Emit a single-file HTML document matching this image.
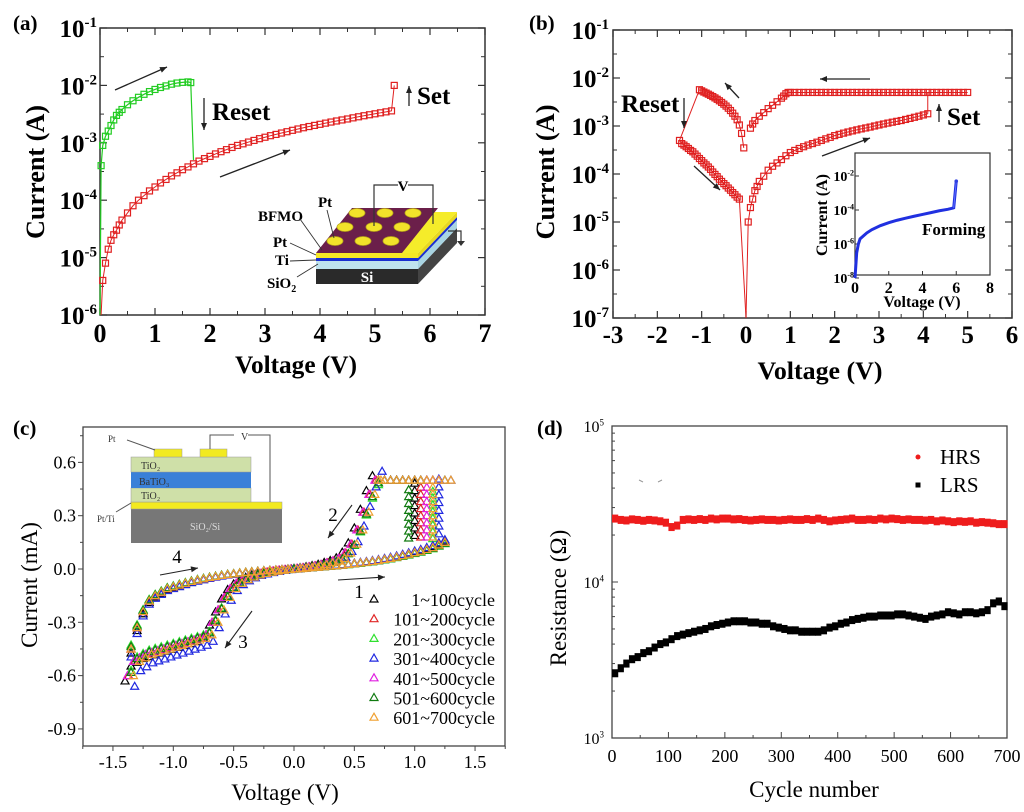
<!DOCTYPE html>
<html><head><meta charset="utf-8">
<style>
html,body{margin:0;padding:0;background:#fff;}
svg{display:block;}
.b{font-family:"Liberation Serif",serif;font-weight:bold;}
.n{font-family:"Liberation Serif",serif;}
</style></head>
<body>
<svg id="fig" width="1024" height="812" viewBox="0 0 1024 812" xmlns="http://www.w3.org/2000/svg">
<rect x="0" y="0" width="1024" height="812" fill="#fff"/>
</svg>
<script>
// ---------- Panel (a) data ----------
const aRedV=[0.02,0.05,0.1,0.15,0.2,0.25,0.3,0.35,0.4,0.5,0.6,0.7,0.8,0.9,1.0,1.1,1.2,1.3,1.4,1.5,1.6,1.7,1.8,1.9,2.0,2.1,2.2,2.3,2.4,2.5,2.6,2.7,2.8,2.9,3.0,3.1,3.2,3.3,3.4,3.5,3.6,3.7,3.8,3.9,4.0,4.1,4.2,4.3,4.4,4.5,4.6,4.7,4.8,4.9,5.0,5.1,5.2,5.3,5.35];
const aRedI=[1e-6,4e-6,8e-6,1.4e-5,2e-5,2.5e-5,3e-5,3.7e-5,4.5e-5,6e-5,8e-5,1e-4,1.2e-4,1.45e-4,1.7e-4,2e-4,2.3e-4,2.65e-4,3e-4,3.4e-4,3.8e-4,4.3e-4,4.8e-4,5.3e-4,5.8e-4,6.4e-4,7e-4,7.6e-4,8.3e-4,9e-4,9.6e-4,1.03e-3,1.1e-3,1.18e-3,1.25e-3,1.33e-3,1.4e-3,1.48e-3,1.56e-3,1.65e-3,1.74e-3,1.83e-3,1.92e-3,2.01e-3,2.1e-3,2.2e-3,2.3e-3,2.4e-3,2.5e-3,2.6e-3,2.72e-3,2.84e-3,2.96e-3,3.08e-3,3.2e-3,3.33e-3,3.46e-3,3.6e-3,1e-2];
const aGreenV=[0,0.02,0.05,0.1,0.15,0.2,0.25,0.3,0.35,0.4,0.5,0.6,0.7,0.8,0.9,1.0,1.1,1.2,1.3,1.4,1.5,1.6,1.65,1.7];
const aGreenI=[1e-6,4e-4,9e-4,1.3e-3,1.6e-3,2e-3,2.5e-3,3e-3,3.4e-3,3.8e-3,4.6e-3,5.4e-3,6.2e-3,7e-3,7.8e-3,8.5e-3,9.2e-3,9.8e-3,1.05e-2,1.1e-2,1.13e-2,1.15e-2,1.12e-2,5e-4];
const aXTicks=[0,1,2,3,4,5,6,7];
const aYExp=[-1,-2,-3,-4,-5,-6];
// ---------- Panel (b) data ----------
const bSetV=[0,0.05,0.1,0.15,0.2,0.25,0.3,0.4,0.5,0.6,0.7,0.8,0.9,1.0,1.1,1.2,1.3,1.4,1.5,1.6,1.7,1.8,1.9,2.0,2.1,2.2,2.3,2.4,2.5,2.6,2.7,2.8,2.9,3.0,3.1,3.2,3.3,3.4,3.5,3.6,3.7,3.8,3.9,4.0,4.1];
const bSetI=[1e-7,1e-5,2e-5,3e-5,4.5e-5,5.5e-5,7e-5,9e-5,1.2e-4,1.45e-4,1.7e-4,2e-4,2.4e-4,2.8e-4,3.1e-4,3.4e-4,3.7e-4,4e-4,4.3e-4,4.6e-4,5e-4,5.4e-4,5.8e-4,6.3e-4,6.7e-4,7.1e-4,7.5e-4,7.9e-4,8.3e-4,8.7e-4,9.1e-4,9.5e-4,1e-3,1.05e-3,1.1e-3,1.15e-3,1.2e-3,1.25e-3,1.3e-3,1.37e-3,1.44e-3,1.52e-3,1.6e-3,1.7e-3,1.8e-3];
const bLrsPosV=[5.0,4.9,4.8,4.7,4.6,4.5,4.4,4.3,4.2,4.1,4.0,3.9,3.8,3.7,3.6,3.5,3.4,3.3,3.2,3.1,3.0,2.9,2.8,2.7,2.6,2.5,2.4,2.3,2.2,2.1,2.0,1.9,1.8,1.7,1.6,1.5,1.4,1.3,1.2,1.1,1.0,0.95,0.9,0.85,0.8,0.7,0.6,0.5,0.4,0.3,0.2,0.15,0.1];
const bLrsPosI=[5e-3,5e-3,5e-3,5e-3,5e-3,5e-3,5e-3,5e-3,5e-3,5e-3,5e-3,5e-3,5e-3,5e-3,5e-3,5e-3,5e-3,5e-3,5e-3,5e-3,5e-3,5e-3,5e-3,5e-3,5e-3,5e-3,5e-3,5e-3,5e-3,5e-3,5e-3,5e-3,5e-3,5e-3,5e-3,5e-3,5e-3,5e-3,5e-3,5e-3,5e-3,5e-3,4.7e-3,4.2e-3,3.8e-3,3.2e-3,2.7e-3,2.3e-3,1.9e-3,1.6e-3,1.3e-3,1.1e-3,9e-4];
const bLrsNegV=[-0.05,-0.1,-0.15,-0.2,-0.25,-0.3,-0.35,-0.4,-0.45,-0.5,-0.55,-0.6,-0.65,-0.7,-0.75,-0.8,-0.85,-0.9,-0.95,-1.0,-1.05];
const bLrsNegI=[3.5e-4,7e-4,1.05e-3,1.35e-3,1.6e-3,1.85e-3,2.1e-3,2.35e-3,2.6e-3,2.85e-3,3.1e-3,3.35e-3,3.6e-3,3.85e-3,4.1e-3,4.35e-3,4.6e-3,4.85e-3,5.1e-3,5.4e-3,5.7e-3];
const bHrsNegV=[-1.5,-1.45,-1.4,-1.35,-1.3,-1.25,-1.2,-1.15,-1.1,-1.05,-1.0,-0.95,-0.9,-0.85,-0.8,-0.75,-0.7,-0.65,-0.6,-0.55,-0.5,-0.45,-0.4,-0.35,-0.3,-0.25,-0.2,-0.15];
const bHrsNegI=[5e-4,4.3e-4,4e-4,3.7e-4,3.4e-4,3.1e-4,2.9e-4,2.6e-4,2.35e-4,2.1e-4,1.9e-4,1.7e-4,1.55e-4,1.4e-4,1.25e-4,1.1e-4,9.8e-5,8.8e-5,7.8e-5,7e-5,6.3e-5,5.7e-5,5.1e-5,4.6e-5,4.1e-5,3.7e-5,3.3e-5,3e-5];
const bFormV=[0,0.1,0.2,0.3,0.5,0.7,1.0,1.5,2.0,2.5,3.0,3.5,4.0,4.5,5.0,5.5,5.8,5.85,6.0];
const bFormI=[1e-8,3e-7,1e-6,2e-6,3e-6,4.5e-6,7e-6,1.2e-5,1.8e-5,2.5e-5,3.3e-5,4.3e-5,5.5e-5,7e-5,9e-5,1.1e-4,1.3e-4,1.35e-4,5e-3];
const bXTicks=[-3,-2,-1,0,1,2,3,4,5,6];
const bYExp=[-1,-2,-3,-4,-5,-6,-7];
const bInsetXTicks=[0,2,4,6,8];
const bInsetYExp=[-2,-4,-6,-8];
// ---------- Panel (c) data ----------
const c1V=[0.05,0.1,0.15,0.2,0.25,0.3,0.35,0.4,0.45,0.5,0.55,0.6,0.65,0.7,0.75,0.8,0.85,0.9,0.95,1.0,1.05,1.1,1.15,1.2,1.25];
const c1I=[0.003,0.005,0.008,0.01,0.013,0.016,0.019,0.022,0.026,0.03,0.034,0.038,0.043,0.048,0.054,0.06,0.067,0.075,0.083,0.092,0.1,0.11,0.12,0.135,0.15];
const cSetI=[0.18,0.22,0.26,0.3,0.34,0.38,0.42,0.46];
const cFlatV=[1.3,1.25,1.2,1.15,1.1,1.05,1.0,0.95,0.9,0.85,0.8,0.75,0.7];
const c2V=[0.7,0.65,0.6,0.55,0.5,0.45,0.4,0.35,0.3,0.25,0.2,0.15,0.1,0.05,0];
const c2I=[0.5,0.42,0.32,0.22,0.14,0.09,0.06,0.045,0.035,0.025,0.018,0.012,0.007,0.003,0];
const c3V=[-0.05,-0.1,-0.15,-0.2,-0.25,-0.3,-0.35,-0.4,-0.45,-0.5,-0.55,-0.6,-0.65,-0.7,-0.75,-0.8,-0.85,-0.9,-0.95,-1.0,-1.05,-1.1,-1.15,-1.2,-1.25,-1.3,-1.35];
const c3I=[-0.003,-0.007,-0.012,-0.018,-0.025,-0.033,-0.045,-0.06,-0.08,-0.11,-0.16,-0.23,-0.3,-0.37,-0.39,-0.4,-0.41,-0.42,-0.43,-0.44,-0.45,-0.46,-0.47,-0.48,-0.5,-0.52,-0.6];
const c4V=[-1.35,-1.3,-1.25,-1.2,-1.15,-1.1,-1.05,-1.0,-0.95,-0.9,-0.85,-0.8,-0.75,-0.7,-0.65,-0.6,-0.55,-0.5,-0.45,-0.4,-0.35,-0.3,-0.25,-0.2,-0.15,-0.1,-0.05];
const c4I=[-0.45,-0.33,-0.24,-0.18,-0.15,-0.13,-0.11,-0.1,-0.09,-0.08,-0.07,-0.062,-0.055,-0.048,-0.042,-0.036,-0.031,-0.027,-0.023,-0.019,-0.016,-0.013,-0.01,-0.008,-0.006,-0.004,-0.002];
const cSeriesNames=["1~100cycle","101~200cycle","201~300cycle","301~400cycle","401~500cycle","501~600cycle","601~700cycle"];
const cSeriesGain=[1.05,1.0,0.95,1.1,1.0,0.97,1.0];
const cSeriesVShift=[-0.05,-0.02,0.0,0.03,-0.03,0.0,0.02];
const cSeriesSetV=[1.0,1.05,1.15,1.2,1.1,0.95,1.15];
const cXTicks=[-1.5,-1.0,-0.5,0.0,0.5,1.0,1.5];
const cYTicks=[0.6,0.3,0.0,-0.3,-0.6,-0.9];
// ---------- Panel (d) data ----------
const dLRS=[2.6,2.8,3.0,3.2,3.3,3.5,3.6,3.8,4.0,4.1,4.3,4.5,4.6,4.7,4.8,4.9,5.0,5.2,5.3,5.4,5.5,5.6,5.6,5.6,5.5,5.5,5.4,5.4,5.2,5.1,5.0,4.9,4.9,4.8,4.8,4.8,4.8,4.9,5.1,5.2,5.4,5.5,5.7,5.8,5.9,6.0,6.0,6.1,6.1,6.1,6.2,6.2,6.1,6.0,5.9,5.8,6.0,6.1,6.2,6.4,6.3,6.2,6.4,6.4,6.3,6.4,6.6,7.3,7.5,7.0];
const dHRS=[2.55,2.5,2.48,2.52,2.5,2.47,2.5,2.48,2.45,2.4,2.25,2.3,2.5,2.52,2.5,2.53,2.5,2.55,2.52,2.55,2.55,2.52,2.53,2.5,2.48,2.5,2.52,2.5,2.5,2.48,2.5,2.52,2.5,2.5,2.53,2.5,2.55,2.5,2.45,2.48,2.5,2.52,2.55,2.5,2.5,2.52,2.5,2.55,2.52,2.55,2.53,2.5,2.52,2.5,2.5,2.48,2.5,2.45,2.48,2.45,2.42,2.45,2.43,2.45,2.4,2.42,2.4,2.38,2.35,2.35];
const dCycleStep=10;
const dXTicks=[0,100,200,300,400,500,600,700];
const dYExp=[5,4,3];

const NS="http://www.w3.org/2000/svg";
const svg=document.getElementById('fig');
function mk(tag,attrs,parent){const e=document.createElementNS(NS,tag);for(const k in attrs)e.setAttribute(k,attrs[k]);(parent||svg).appendChild(e);return e;}
function grp(parent){return mk('g',{},parent);}
function supText(parent,x,y,base,sup,cls,fs,sfs,anchor){
  const t=mk('text',{x:x,y:y,'class':cls,'font-size':fs,'text-anchor':anchor||'end'},parent);
  t.appendChild(document.createTextNode(base));
  const s=mk('tspan',{dy:-fs*0.4,'font-size':sfs},t);s.textContent=sup;
  return t;
}
function arrow(parent,x1,y1,x2,y2,w){
  const g=grp(parent);
  mk('line',{x1:x1,y1:y1,x2:x2,y2:y2,stroke:'#222','stroke-width':w||1.3},g);
  const a=Math.atan2(y2-y1,x2-x1),L=7,W=3;
  const p=[[x2,y2],[x2-L*Math.cos(a)+W*Math.sin(a),y2-L*Math.sin(a)-W*Math.cos(a)],[x2-L*Math.cos(a)-W*Math.sin(a),y2-L*Math.sin(a)+W*Math.cos(a)]];
  mk('polygon',{points:p.map(q=>q.join(',')).join(' '),fill:'#222'},g);
  return g;
}
function sq(parent,x,y,s,col){return mk('rect',{x:x-s/2,y:y-s/2,width:s,height:s,fill:'none',stroke:col,'stroke-width':1.2},parent);}
function tri(parent,x,y,col){return mk('path',{d:`M${x},${y-4}L${x+4},${y+3}L${x-4},${y+3}Z`,fill:'none',stroke:col,'stroke-width':1.2},parent);}
function poly(parent,xs,ys,col,w){return mk('polyline',{points:xs.map((x,i)=>x+','+ys[i]).join(' '),fill:'none',stroke:col,'stroke-width':w||1},parent);}

// ================= Panel (a) =================
(function(){
  const L=100,R=485,T=28,B=315;
  const xa=v=>L+v*(R-L)/7;
  const ya=i=>T+(-1-Math.log10(i))*(B-T)/5;
  const P=grp();
  
  
  const lab=mk('text',{x:13,y:30,'class':'b','font-size':21},P);lab.textContent='(a)';
  
  
  const frame=mk('rect',{x:L,y:T,width:R-L,height:B-T,fill:'none',stroke:'#333','stroke-width':1.5},P);
  
  
  const tg=grp(P);
  
  
  aXTicks.forEach(v=>{
    const x=xa(v);
    mk('line',{x1:x,y1:B,x2:x,y2:B-7,stroke:'#333','stroke-width':1.2},tg);
    mk('line',{x1:x,y1:T,x2:x,y2:T+7,stroke:'#333','stroke-width':1.2},tg);
    if(v<7){mk('line',{x1:xa(v+0.5),y1:B,x2:xa(v+0.5),y2:B-4,stroke:'#333'},tg);mk('line',{x1:xa(v+0.5),y1:T,x2:xa(v+0.5),y2:T+4,stroke:'#333'},tg);}
    const t=mk('text',{x:x,y:342,'class':'b','font-size':26,'text-anchor':'middle'},tg);t.textContent=String(v);
  });
  const yg=grp(P);
  
  
  aYExp.forEach(e=>{
    const y=ya(Math.pow(10,e));
    mk('line',{x1:L,y1:y,x2:L+7,y2:y,stroke:'#333','stroke-width':1.2},yg);
    mk('line',{x1:R,y1:y,x2:R-7,y2:y,stroke:'#333','stroke-width':1.2},yg);
    if(e>-6){const ym=ya(Math.pow(10,e-0.5));mk('line',{x1:L,y1:ym,x2:L+4,y2:ym,stroke:'#333'},yg);mk('line',{x1:R,y1:ym,x2:R-4,y2:ym,stroke:'#333'},yg);}
    supText(yg,97,y+9,'10',String(e),'b',25,15,'end');
  });
  const xt=mk('text',{x:296,y:373,'class':'b','font-size':25,'text-anchor':'middle',textLength:122,lengthAdjust:'spacingAndGlyphs'},P);xt.textContent='Voltage (V)';
  
  
  const yt=mk('text',{x:0,y:0,'class':'b','font-size':26,'text-anchor':'middle',textLength:134,lengthAdjust:'spacingAndGlyphs',transform:'translate(44,172) rotate(-90)'},P);yt.textContent='Current (A)';
  
  
  // series
  const gs=grp(P);
  
  
  poly(gs,aGreenV.map(xa),aGreenI.map(ya),'#22cc22',1.2);
  aGreenV.forEach((v,i)=>{if(i>0&&i<aGreenV.length-1)sq(gs,xa(v),ya(aGreenI[i]),6,'#22cc22');});
  const rs=grp(P);
  
  
  poly(rs,aRedV.map(xa),aRedI.map(ya),'#e02020',1);
  aRedV.forEach((v,i)=>{if(i>0)sq(rs,xa(v),ya(aRedI[i]),6,'#e02020');});
  // annotations
  const an=grp(P);
  
  
  arrow(an,115,90,167,67);
  arrow(an,220,177,290,150);
  arrow(an,204,98,204,130);
  arrow(an,409,106,409,86);
  const rt=mk('text',{x:212,y:120,'class':'b','font-size':25},an);rt.textContent='Reset';
  const st=mk('text',{x:417,y:104,'class':'b','font-size':25},an);st.textContent='Set';
  // inset device
  const dv=grp(P);
  
  
  const dx=39,dy=-41;
  function layer(y1,y2,front,side){
    mk('rect',{x:316,y:y1,width:102,height:y2-y1,fill:front},dv);
    mk('polygon',{points:`418,${y1} ${418+dx},${y1+dy} ${418+dx},${y2+dy} 418,${y2}`,fill:side},dv);
  }
  layer(269,284,'#2a2a2a','#444');
  layer(261,269,'#bfe3ee','#a8d4e2');
  layer(258,261,'#1a2fd0','#1a2fd0');
  layer(253,258,'#f5e826','#e8d820');
  mk('polygon',{points:`316,253 ${316+dx},${253+dy} ${418+dx},${253+dy} 418,253`,fill:'#f5ec2a'},dv);
  mk('polygon',{points:'316,253 352,208 438,208 402,253',fill:'#6b1f4a'},dv);
  const si=mk('text',{x:367,y:282,'class':'b','font-size':15,fill:'#fff','text-anchor':'middle'},dv);si.textContent='Si';
  [[357,213],[385,213],[413,213],[345,227],[374,227],[402,227],[335,241],[363,241],[391,241]].forEach(c=>{
    mk('ellipse',{cx:c[0],cy:c[1],rx:8,ry:4.5,fill:'#f2e22a',stroke:'#b8a818','stroke-width':0.8},dv);
  });
  mk('polyline',{points:'374,226 374,185 398,185',fill:'none',stroke:'#333','stroke-width':1.2},dv);
  mk('polyline',{points:'408,185 433,185 433,224',fill:'none',stroke:'#333','stroke-width':1.2},dv);
  const vv=mk('text',{x:403,y:191,'class':'b','font-size':15,'text-anchor':'middle'},dv);vv.textContent='V';
  mk('polyline',{points:'448,231 461,231 461,242',fill:'none',stroke:'#333','stroke-width':1.2},dv);
  mk('polygon',{points:'457,241 465,241 461,246',fill:'#333'},dv);
  [['Pt',318,207,'start'],['BFMO',258,221,'start'],['Pt',273,247,'start'],['Ti',275,265,'start']].forEach(l=>{
    const t=mk('text',{x:l[1],y:l[2],'class':'b','font-size':15,'text-anchor':l[3]},dv);t.textContent=l[0];
  });
  const so=mk('text',{x:267,y:288,'class':'b','font-size':15},dv);so.appendChild(document.createTextNode('SiO'));const sub=mk('tspan',{dy:4,'font-size':10},so);sub.textContent='2';
  [[327,210,334,238],[300,219,322,250],[290,243,316,255],[290,261,316,260],[297,277,318,264]].forEach(l=>mk('line',{x1:l[0],y1:l[1],x2:l[2],y2:l[3],stroke:'#333','stroke-width':0.9},dv));
})();

// ================= Panel (b) =================
(function(){
  const L=613,R=1012,T=30,B=318;
  const xb=v=>L+(v+3)*(R-L)/9;
  const yb=i=>T+(-1-Math.log10(i))*(B-T)/6;
  const P=grp();
  
  
  const lab=mk('text',{x:529,y:30,'class':'b','font-size':21},P);lab.textContent='(b)';
  
  
  const frame=mk('rect',{x:L,y:T,width:R-L,height:B-T,fill:'none',stroke:'#333','stroke-width':1.5},P);
  
  
  const tg=grp(P);
  
  
  bXTicks.forEach(v=>{
    const x=xb(v);
    mk('line',{x1:x,y1:B,x2:x,y2:B-7,stroke:'#333','stroke-width':1.2},tg);
    mk('line',{x1:x,y1:T,x2:x,y2:T+7,stroke:'#333','stroke-width':1.2},tg);
    if(v<6){mk('line',{x1:xb(v+0.5),y1:B,x2:xb(v+0.5),y2:B-4,stroke:'#333'},tg);mk('line',{x1:xb(v+0.5),y1:T,x2:xb(v+0.5),y2:T+4,stroke:'#333'},tg);}
    const t=mk('text',{x:x,y:343,'class':'b','font-size':25,'text-anchor':'middle'},tg);t.textContent=String(v);
  });
  const yg=grp(P);
  
  
  bYExp.forEach(e=>{
    const y=yb(Math.pow(10,e));
    mk('line',{x1:L,y1:y,x2:L+7,y2:y,stroke:'#333','stroke-width':1.2},yg);
    mk('line',{x1:R,y1:y,x2:R-7,y2:y,stroke:'#333','stroke-width':1.2},yg);
    if(e>-7){const ym=yb(Math.pow(10,e-0.5));mk('line',{x1:L,y1:ym,x2:L+4,y2:ym,stroke:'#333'},yg);mk('line',{x1:R,y1:ym,x2:R-4,y2:ym,stroke:'#333'},yg);}
    supText(yg,609,y+9,'10',String(e),'b',25,15,'end');
  });
  const xt=mk('text',{x:820,y:379,'class':'b','font-size':25,'text-anchor':'middle',textLength:125,lengthAdjust:'spacingAndGlyphs'},P);xt.textContent='Voltage (V)';
  
  
  const yt=mk('text',{x:0,y:0,'class':'b','font-size':26,'text-anchor':'middle',textLength:135,lengthAdjust:'spacingAndGlyphs',transform:'translate(554,172) rotate(-90)'},P);yt.textContent='Current (A)';
  
  
  const col='#e02020';
  const s=grp(P);
  
  
  poly(s,bSetV.map(xb),bSetI.map(yb),col,1);
  poly(s,[xb(bSetV[bSetV.length-1]),xb(bLrsPosV[9])],[yb(bSetI[bSetI.length-1]),yb(bLrsPosI[9])],col,1);
  poly(s,bLrsPosV.map(xb),bLrsPosI.map(yb),col,1);
  poly(s,bLrsNegV.map(xb),bLrsNegI.map(yb),col,1);
  poly(s,[xb(bLrsNegV[bLrsNegV.length-1]),xb(bHrsNegV[0])],[yb(bLrsNegI[bLrsNegI.length-1]),yb(bHrsNegI[0])],col,1);
  poly(s,bHrsNegV.map(xb),bHrsNegI.map(yb),col,1);
  poly(s,[xb(bHrsNegV[bHrsNegV.length-1]),xb(0)],[yb(bHrsNegI[bHrsNegI.length-1]),yb(1e-7)],col,1);
  [[bSetV,bSetI],[bLrsPosV,bLrsPosI],[bLrsNegV,bLrsNegI],[bHrsNegV,bHrsNegI]].forEach(br=>{
    br[0].forEach((v,i)=>{if(br[1][i]>2e-7)sq(s,xb(v),yb(br[1][i]),6,col);});
  });
  const an=grp(P);
  
  
  arrow(an,870,79,820,79);
  arrow(an,739,98,725,83);
  arrow(an,694,166,720,190);
  arrow(an,822,156,870,138);
  arrow(an,684,98,684,128);
  arrow(an,939,122,939,104);
  const rt=mk('text',{x:621,y:112,'class':'b','font-size':25},an);rt.textContent='Reset';
  const st=mk('text',{x:947,y:125,'class':'b','font-size':25},an);st.textContent='Set';
  // inset
  const IL=855,IR=990,IT=153,IB=275;
  const xi=v=>IL+v*(IR-IL)/8;
  const yi=i=>176+(-2-Math.log10(i))*17;
  const ins=grp(P);
  
  
  mk('rect',{x:IL,y:IT,width:IR-IL,height:IB-IT,fill:'#fff',stroke:'#333','stroke-width':1.2},ins);
  bInsetXTicks.forEach(v=>{const x=xi(v);mk('line',{x1:x,y1:IB,x2:x,y2:IB-4,stroke:'#333'},ins);
    const t=mk('text',{x:x,y:293,'class':'b','font-size':16,'text-anchor':'middle'},ins);t.textContent=String(v);});
  bInsetYExp.forEach(e=>{const y=yi(Math.pow(10,e));mk('line',{x1:IL,y1:y,x2:IL+4,y2:y,stroke:'#333'},ins);
    supText(ins,854,y+5,'10',String(e),'b',14,8,'end');});
  const ixt=mk('text',{x:922,y:307,'class':'b','font-size':16,'text-anchor':'middle'},ins);ixt.textContent='Voltage (V)';
  const iyt=mk('text',{x:0,y:0,'class':'b','font-size':16,'text-anchor':'middle',transform:'translate(827,215) rotate(-90)'},ins);iyt.textContent='Current (A)';
  poly(ins,bFormV.map(xi),bFormI.map(yi),'#2030e0',3);
  poly(ins,bFormV.slice(-2).map(xi),bFormI.slice(-2).map(yi),'#6070ff',1);
  mk('circle',{cx:xi(bFormV[bFormV.length-1]),cy:yi(bFormI[bFormI.length-1]),r:1.8,fill:'#3040e0'},ins);
  const fm=mk('text',{x:922,y:235,'class':'b','font-size':17},ins);fm.textContent='Forming';
})();

// ================= Panel (c) =================
(function(){
  const L=83,R=505,T=427,B=746;
  const xc=v=>294+v*120.7;
  const yc=i=>569-i*177.7;
  const P=grp();
  
  
  const lab=mk('text',{x:13,y:435,'class':'b','font-size':21},P);lab.textContent='(c)';
  
  
  const frame=mk('rect',{x:L,y:T,width:R-L,height:B-T,fill:'none',stroke:'#444','stroke-width':1.3},P);
  
  
  const tg=grp(P);
  
  
  cXTicks.forEach(v=>{
    const x=xc(v);
    mk('line',{x1:x,y1:B,x2:x,y2:B+5,stroke:'#444'},tg);
    mk('line',{x1:xc(v+0.25),y1:B,x2:xc(v+0.25),y2:B+3,stroke:'#444'},tg);
    if(v===-1.5)mk('line',{x1:xc(v-0.25),y1:B,x2:xc(v-0.25),y2:B+3,stroke:'#444'},tg);
    const t=mk('text',{x:x,y:768,'class':'n','font-size':18,'text-anchor':'middle'},tg);t.textContent=v.toFixed(1);
  });
  const yg=grp(P);
  
  
  cYTicks.forEach(v=>{
    const y=yc(v);
    mk('line',{x1:L,y1:y,x2:L-5,y2:y,stroke:'#444'},yg);
    mk('line',{x1:L,y1:yc(v+0.15),x2:L-3,y2:yc(v+0.15),stroke:'#444'},yg);
    const t=mk('text',{x:76,y:y+6,'class':'n','font-size':18,'text-anchor':'end'},yg);t.textContent=v.toFixed(1);
  });
  const xt=mk('text',{x:285,y:800,'class':'n','font-size':23,'text-anchor':'middle'},P);xt.textContent='Voltage (V)';
  
  
  const yt=mk('text',{x:0,y:0,'class':'n','font-size':23,'text-anchor':'middle',transform:'translate(37,585) rotate(-90)'},P);yt.textContent='Current (mA)';
  
  
  const cols=['#000000','#e02828','#30e030','#2028e0','#e020e0','#107a10','#f0a030'];
  cSeriesNames.forEach((nm,s)=>{
    const g=grp(P);
    
    
    const gn=cSeriesGain[s],sh=cSeriesVShift[s];
    c1V.forEach((v,i)=>tri(g,xc(v),yc(c1I[i]*gn),cols[s]));
    cSetI.forEach(i=>tri(g,xc(cSeriesSetV[s]),yc(i*gn),cols[s]));
    cFlatV.forEach(v=>{if(v<=cSeriesSetV[s]+0.1||s===6)tri(g,xc(v),yc(0.5),cols[s]);});
    c2V.forEach((v,i)=>tri(g,xc(v+sh),yc(c2I[i]*gn),cols[s]));
    c3V.forEach((v,i)=>tri(g,xc(v+sh),yc(c3I[i]*gn),cols[s]));
    c4V.forEach((v,i)=>tri(g,xc(v),yc(c4I[i]*gn),cols[s]));
  });
  // legend
  const lg=grp(P);
  
  
  cSeriesNames.forEach((nm,s)=>{
    const y=600+s*19.7;
    const e=grp(lg);
    
    
    tri(e,374,y-1,cols[s]);
    const t=mk('text',{x:495,y:y+6,'class':'n','font-size':18,'text-anchor':'end'},e);t.textContent=nm;
  });
  const an=grp(P);
  
  
  arrow(an,160,575,198,568,1.1);arrow(an,352,505,328,538,1.1);arrow(an,252,611,225,648,1.1);arrow(an,338,580,385,577,1.1);
  [['4',177,563],['2',333,521],['3',243,648],['1',359,598]].forEach(l=>{const t=mk('text',{x:l[1],y:l[2],'class':'n','font-size':19,'text-anchor':'middle'},an);t.textContent=l[0];});
  // inset
  const ins=grp(P);
  
  
  mk('rect',{x:131,y:509,width:151,height:34,fill:'#777'},ins);
  mk('rect',{x:131,y:502,width:151,height:7,fill:'#f2ea20',stroke:'#999','stroke-width':0.5},ins);
  mk('rect',{x:131,y:488,width:120,height:14,fill:'#cfe0a8',stroke:'#999','stroke-width':0.5},ins);
  mk('rect',{x:131,y:472,width:120,height:16,fill:'#3a80d8'},ins);
  mk('rect',{x:131,y:457,width:120,height:15,fill:'#cfe0a8',stroke:'#999','stroke-width':0.5},ins);
  mk('rect',{x:154,y:449,width:28,height:8,fill:'#f2ea20',stroke:'#999','stroke-width':0.5},ins);
  mk('rect',{x:200,y:449,width:27,height:8,fill:'#f2ea20',stroke:'#999','stroke-width':0.5},ins);
  mk('polyline',{points:'210,449 210,435 234,435',fill:'none',stroke:'#555'},ins);
  mk('polyline',{points:'248,435 270,435 270,502',fill:'none',stroke:'#555'},ins);
  mk('line',{x1:127,y1:440,x2:155,y2:450,stroke:'#555'},ins);
  mk('line',{x1:116,y1:512,x2:131,y2:503,stroke:'#555'},ins);
  [['V',241,440,10],['Pt',108,442,9],['Pt/Ti',97,522,9],['TiO₂',141,469,10],['BaTiO₃',139,485,10],['TiO₂',141,499,10],['SiO₂/Si',190,530,10]].forEach(l=>{
    const t=mk('text',{x:l[1],y:l[2],'class':'n','font-size':l[3],fill:l[0]==='SiO₂/Si'?'#ddd':'#333'},ins);t.textContent=l[0];
  });
})();

// ================= Panel (d) =================
(function(){
  const L=612,R=1007,T=426,B=738;
  const xd=n=>L+n*(R-L)/700;
  const yd=r=>T+(5-Math.log10(r))*(B-T)/2;
  const P=grp();
  
  
  const lab=mk('text',{x:537,y:435,'class':'b','font-size':21},P);lab.textContent='(d)';
  
  
  const frame=mk('rect',{x:L,y:T,width:R-L,height:B-T,fill:'none',stroke:'#444','stroke-width':1.3},P);
  
  
  const tg=grp(P);
  
  
  dXTicks.forEach(v=>{
    const x=xd(v);
    mk('line',{x1:x,y1:B,x2:x,y2:B-6,stroke:'#444'},tg);
    if(v<700)mk('line',{x1:xd(v+50),y1:B,x2:xd(v+50),y2:B-3,stroke:'#444'},tg);
    const t=mk('text',{x:x,y:762,'class':'n','font-size':18,'text-anchor':'middle'},tg);t.textContent=String(v);
  });
  const yg=grp(P);
  
  
  dYExp.forEach(e=>{
    const y=yd(Math.pow(10,e));
    mk('line',{x1:L,y1:y,x2:L+6,y2:y,stroke:'#444'},yg);
    supText(yg,604,y+6,'10',String(e),'n',16,9,'end');
    if(e>3){for(let m=2;m<10;m++){const ym=yd(m*Math.pow(10,e-1));mk('line',{x1:L,y1:ym,x2:L+3,y2:ym,stroke:'#444'},yg);}}
  });
  const xt=mk('text',{x:814,y:797,'class':'n','font-size':23,'text-anchor':'middle'},P);xt.textContent='Cycle number';
  
  
  const yt=mk('text',{x:0,y:0,'class':'n','font-size':23,'text-anchor':'middle',transform:'translate(566,598) rotate(-90)'},P);yt.textContent='Resistance (Ω)';
  
  
  const hs=grp(P);
  
  
  dHRS.forEach((r,i)=>{const x=xd(i*dCycleStep),y=yd(r*1e4);mk('rect',{x:x,y:y-4,width:xd(dCycleStep)-L+0.6,height:8,fill:'#ee1c1c'},hs);});
  const ls=grp(P);
  
  
  dLRS.forEach((r,i)=>{const x=xd(i*dCycleStep),y=yd(r*1e3);mk('rect',{x:x,y:y-4,width:xd(dCycleStep)-L+0.6,height:8,fill:'#000'},ls);});
  const lg=grp(P);
  
  
  mk('circle',{cx:918,cy:457,r:2.5,fill:'#ee1c1c'},lg);
  const h=mk('text',{x:940,y:464,'class':'n','font-size':21},lg);h.textContent='HRS';
  mk('rect',{x:915.5,y:482.5,width:5,height:5,fill:'#000'},lg);
  const l=mk('text',{x:940,y:492,'class':'n','font-size':21},lg);l.textContent='LRS';
  mk('path',{d:'M639,480 l4,2 M658,482 l4,-2',stroke:'#999','stroke-width':1},lg);
})();
</script>
</body></html>
